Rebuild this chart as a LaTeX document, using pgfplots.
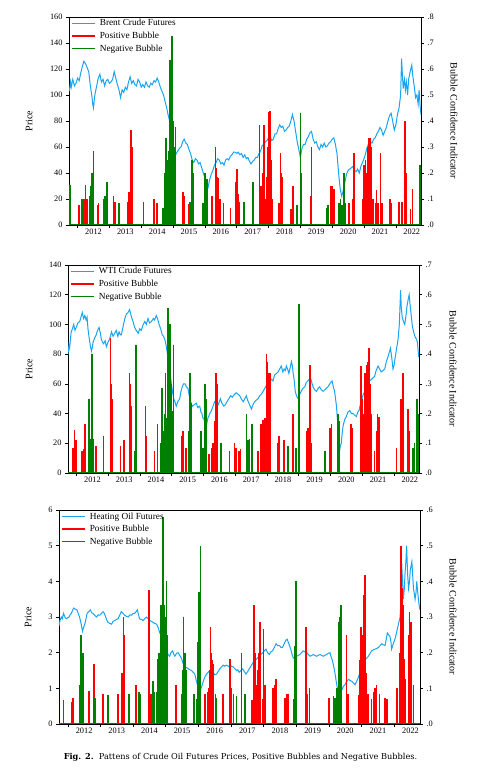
\documentclass[border=0pt]{standalone}
\usepackage{fontspec}
\setmainfont{Liberation Serif}
\newfontfamily\capfont{DejaVu Serif}
\usepackage{pgfplots}
\pgfplotsset{compat=1.18}
\definecolor{pblue}{RGB}{25,165,240}
\definecolor{pred}{RGB}{255,0,0}
\definecolor{pgreen}{RGB}{0,128,0}
\pgfplotsset{
  base/.style={
    scale only axis, anchor=south west,
    xmin=2011.73, xmax=2022.79,
    enlargelimits=false,
    axis line style={line width=0.7pt},
    tick align=outside,
    major tick length=3pt,
    tick style={line width=0.6pt, black},
    tick label style={font=\fontsize{8.3}{9}\selectfont},
    label style={font=\fontsize{9.6}{11}\selectfont},
    /pgf/number format/assume math mode=true,
  },
  leftax/.style={base,
    xtick={2012,2013,2014,2015,2016,2017,2018,2019,2020,2021,2022}, xticklabels={},
    extra x ticks={2012.5,2013.5,2014.5,2015.5,2016.5,2017.5,2018.5,2019.5,2020.5,2021.5,2022.5},
    extra x tick labels={2012,2013,2014,2015,2016,2017,2018,2019,2020,2021,2022},
    extra x tick style={major tick length=0pt},
    xtick pos=left, ytick pos=left,
    ylabel={Price},
  },
  rightax/.style={base,
    axis x line=none, axis y line*=right,
    ylabel={Bubble Confidence Indicator},
    legend style={at={(axis description cs:0,1)}, anchor=north west, xshift=1.9pt,
      draw=none, fill=none, inner sep=0pt, column sep=2.4pt,
      font=\fontsize{9.3}{11}\selectfont,
      nodes={inner sep=1.8pt, text height=7pt, text depth=2pt}},
    legend image code/.code={\draw[#1] (0pt,0pt) -- (23pt,0pt);},
    legend cell align=left,
  },
  bar/.style={ycomb, line width=1.6pt, mark=none, forget plot},
  price/.style={pblue, line width=1pt, mark=none},
  leg/.style={line width=1.5pt},
}
\begin{document}
\begin{tikzpicture}
\path[use as bounding box] (0pt,0pt) rectangle (483pt,775pt);

% ---------------- Panel 1: Brent ----------------
\begin{axis}[leftax, at={(69pt,550pt)}, width=352pt, height=208pt,
  ymin=0, ymax=160, ytick={0,20,40,60,80,100,120,140,160},
  every axis y label/.style={at={(axis description cs:0,0.5)}, xshift=-40pt, rotate=90, anchor=center}]
\addplot[price] coordinates {
(2011.74,103)(2011.78,110)(2011.80,106)(2011.85,112)(2011.90,107)(2011.95,109)(2012.00,113)(2012.05,111)
(2012.10,117)(2012.15,122)(2012.20,126)(2012.25,124)(2012.30,121)(2012.35,118)(2012.40,107)(2012.45,99)
(2012.48,92)(2012.50,90)(2012.53,98)(2012.55,101)(2012.60,107)(2012.65,113)(2012.70,116)(2012.75,110)
(2012.80,112)(2012.85,107)(2012.90,111)(2012.95,112)(2013.00,109)(2013.05,110)(2013.10,112)(2013.15,118)
(2013.20,113)(2013.25,108)(2013.30,104)(2013.35,98)(2013.40,104)(2013.45,102)(2013.50,106)(2013.55,104)
(2013.60,110)(2013.65,114)(2013.70,109)(2013.75,111)(2013.80,108)(2013.85,107)(2013.90,112)(2013.95,110)
(2014.00,106)(2014.05,108)(2014.10,106)(2014.15,110)(2014.20,107)(2014.25,106)(2014.30,109)(2014.35,108)
(2014.40,111)(2014.45,110)(2014.50,113)(2014.55,110)(2014.60,106)(2014.65,103)(2014.70,100)(2014.75,95)
(2014.80,90)(2014.85,84)(2014.90,79)(2014.95,72)(2015.00,60)(2015.05,52)(2015.10,55)(2015.15,57)
(2015.20,59)(2015.25,60)(2015.30,64)(2015.35,66)(2015.40,63)(2015.45,62)(2015.50,58)(2015.55,55)
(2015.60,50)(2015.65,48)(2015.70,51)(2015.75,50)(2015.80,47)(2015.85,48)(2015.90,44)(2015.95,40)
(2016.00,36)(2016.05,32)(2016.10,29)(2016.15,35)(2016.20,39)(2016.25,42)(2016.30,46)(2016.35,48)
(2016.40,51)(2016.45,50)(2016.50,47)(2016.55,48)(2016.60,46)(2016.65,50)(2016.70,51)(2016.75,50)
(2016.80,53)(2016.85,54)(2016.90,56)(2016.95,56)(2017.00,55)(2017.05,56)(2017.10,54)(2017.15,55)
(2017.20,52)(2017.25,54)(2017.30,51)(2017.35,52)(2017.40,49)(2017.45,47)(2017.50,49)(2017.55,50)
(2017.60,52)(2017.65,52)(2017.70,55)(2017.75,57)(2017.80,61)(2017.85,62)(2017.90,64)(2017.95,65)
(2018.00,67)(2018.05,68)(2018.10,65)(2018.15,66)(2018.20,70)(2018.25,70)(2018.30,74)(2018.35,77)
(2018.40,75)(2018.45,76)(2018.50,72)(2018.55,73)(2018.60,75)(2018.65,76)(2018.70,80)(2018.75,85)
(2018.80,80)(2018.85,72)(2018.90,64)(2018.95,58)(2019.00,52)(2019.05,59)(2019.10,62)(2019.15,62)
(2019.20,66)(2019.25,68)(2019.30,71)(2019.35,72)(2019.40,66)(2019.45,63)(2019.50,64)(2019.55,60)
(2019.60,58)(2019.65,62)(2019.70,60)(2019.75,63)(2019.80,60)(2019.85,61)(2019.90,63)(2019.95,64)
(2020.00,66)(2020.05,67)(2020.10,62)(2020.15,55)(2020.20,40)(2020.25,28)(2020.30,22)(2020.35,27)
(2020.40,33)(2020.45,39)(2020.50,42)(2020.55,43)(2020.60,44)(2020.65,45)(2020.70,42)(2020.75,41)
(2020.80,43)(2020.85,40)(2020.90,45)(2020.95,48)(2021.00,51)(2021.05,55)(2021.10,60)(2021.15,63)
(2021.20,64)(2021.25,63)(2021.30,66)(2021.35,67)(2021.40,70)(2021.45,72)(2021.50,75)(2021.55,73)
(2021.60,69)(2021.65,72)(2021.70,75)(2021.75,80)(2021.80,84)(2021.85,86)(2021.90,80)(2021.95,73)
(2022.00,77)(2022.05,85)(2022.10,90)(2022.15,100)(2022.18,128)(2022.20,118)(2022.23,105)(2022.27,112)
(2022.30,104)(2022.33,110)(2022.37,100)(2022.40,112)(2022.45,118)(2022.50,123)(2022.53,115)(2022.57,108)
(2022.62,98)(2022.66,100)(2022.70,93)(2022.73,104)(2022.76,92)(2022.79,85)
};
\end{axis}
\begin{axis}[rightax, at={(69pt,550pt)}, width=352pt, height=208pt,
  ymin=0, ymax=0.8, ytick={0,0.1,0.2,0.3,0.4,0.5,0.6,0.7,0.8},
  yticklabels={.0,.1,.2,.3,.4,.5,.6,.7,.8},
  every axis y label/.style={at={(axis description cs:1,0.5)}, xshift=33pt, rotate=-90, anchor=center}]
\addlegendimage{pblue, leg}
\addlegendimage{pred, leg}
\addlegendimage{pgreen, leg}
\addplot[pred, bar] coordinates {
(2012.04,0.075)(2012.16,0.075)(2012.18,0.08)(2012.20,0.10)(2012.25,0.155)(2012.28,0.10)(2012.31,0.10)
(2012.62,0.075)(2012.66,0.085)(2012.81,0.10)(2013.13,0.11)(2013.18,0.09)(2013.57,0.09)(2013.62,0.125)
(2013.67,0.365)(2013.69,0.36)(2013.71,0.30)(2014.41,0.10)(2014.49,0.085)(2015.31,0.125)(2015.35,0.11)
(2015.49,0.08)(2016.22,0.11)(2016.33,0.30)(2016.36,0.22)(2016.38,0.185)(2016.43,0.18)(2016.48,0.10)
(2016.80,0.065)(2016.98,0.165)(2017.01,0.215)(2017.04,0.12)(2017.06,0.11)(2017.09,0.09)(2017.72,0.385)
(2017.74,0.15)(2017.76,0.15)(2017.79,0.10)(2017.82,0.2)(2017.85,0.385)(2017.87,0.25)(2017.90,0.10)
(2017.93,0.15)(2017.95,0.185)(2017.98,0.3)(2018.00,0.435)(2018.04,0.44)(2018.06,0.3)(2018.08,0.25)
(2018.11,0.10)(2018.32,0.085)(2018.37,0.275)(2018.40,0.2)(2018.42,0.185)(2018.69,0.06)(2018.72,0.06)
(2018.77,0.15)(2018.79,0.085)(2019.32,0.11)(2019.35,0.30)(2019.95,0.15)(2019.98,0.15)(2020.00,0.15)
(2020.05,0.14)(2020.52,0.085)(2020.66,0.10)(2020.68,0.275)(2020.97,0.1)(2021.00,0.23)(2021.03,0.15)
(2021.05,0.25)(2021.08,0.2)(2021.10,0.165)(2021.13,0.3)(2021.15,0.335)(2021.18,0.25)(2021.20,0.335)
(2021.24,0.30)(2021.29,0.10)(2021.36,0.085)(2021.39,0.135)(2021.43,0.085)(2021.52,0.275)(2021.57,0.085)
(2021.81,0.10)(2021.86,0.085)(2022.10,0.09)(2022.20,0.09)(2022.28,0.40)(2022.31,0.20)(2022.46,0.06)
(2022.52,0.14)
};
\addplot[pgreen, bar] coordinates {
(2011.76,0.155)(2012.13,0.10)(2012.18,0.09)(2012.37,0.11)(2012.41,0.10)(2012.43,0.15)(2012.45,0.20)
(2012.50,0.285)(2012.86,0.11)(2012.92,0.165)(2013.30,0.085)(2014.07,0.09)(2014.68,0.065)(2014.75,0.20)
(2014.78,0.335)(2014.82,0.25)(2014.86,0.285)(2014.89,0.3)(2014.91,0.635)(2014.94,0.45)(2014.96,0.725)
(2014.99,0.40)(2015.01,0.2)(2015.03,0.30)(2015.07,0.375)(2015.54,0.09)(2015.59,0.25)(2015.62,0.20)
(2015.94,0.085)(2016.01,0.20)(2016.06,0.175)(2016.59,0.085)(2017.22,0.09)(2017.51,0.165)(2018.90,0.075)
(2019.00,0.43)(2019.03,0.20)(2019.84,0.065)(2019.86,0.075)(2020.21,0.085)(2020.26,0.10)(2020.31,0.075)
(2020.37,0.20)(2020.42,0.085)(2022.76,0.23)(2022.785,0.225)
};
\addplot[pgreen, line width=1pt, forget plot] coordinates {(2011.73,0)(2022.79,0)};
\legend{Brent Crude Futures, Positive Bubble, Negative Bubble}
\end{axis}

% ---------------- Panel 2: WTI ----------------
\begin{axis}[leftax, at={(68pt,302pt)}, width=351pt, height=208pt,
  ymin=0, ymax=140, ytick={0,20,40,60,80,100,120,140},
  every axis y label/.style={at={(axis description cs:0,0.5)}, xshift=-39pt, rotate=90, anchor=center}]
\addplot[price] coordinates {
(2011.73,80)(2011.76,86)(2011.78,84)(2011.83,95)(2011.87,97)(2011.91,100)(2011.95,96)(2011.99,98)
(2012.04,101)(2012.10,102)(2012.14,105)(2012.18,108)(2012.22,104)(2012.26,106)(2012.30,103)(2012.33,105)
(2012.36,97)(2012.39,92)(2012.43,86)(2012.47,82)(2012.50,85)(2012.52,88)(2012.57,91)(2012.62,93)
(2012.66,96)(2012.71,98)(2012.75,94)(2012.78,90)(2012.82,88)(2012.85,87)(2012.90,89)(2012.94,85)
(2012.99,88)(2013.04,90)(2013.10,95)(2013.15,92)(2013.20,94)(2013.25,96)(2013.30,92)(2013.34,95)
(2013.38,93)(2013.41,93)(2013.46,98)(2013.52,104)(2013.57,107)(2013.62,108)(2013.67,110)(2013.73,105)
(2013.78,102)(2013.83,98)(2013.88,96)(2013.94,94)(2013.99,97)(2014.04,96)(2014.10,100)(2014.15,102)
(2014.20,100)(2014.25,104)(2014.30,101)(2014.36,102)(2014.42,104)(2014.46,103)(2014.51,106)(2014.55,104)
(2014.60,100)(2014.65,97)(2014.70,93)(2014.74,92)(2014.78,90)(2014.82,86)(2014.85,82)(2014.88,78)
(2014.91,75)(2014.95,67)(2014.99,60)(2015.02,55)(2015.06,50)(2015.10,48)(2015.14,45)(2015.19,48)
(2015.25,50)(2015.29,55)(2015.33,58)(2015.37,60)(2015.42,60)(2015.46,58)(2015.51,57)(2015.55,52)
(2015.58,50)(2015.62,46)(2015.65,45)(2015.71,46)(2015.77,47)(2015.82,44)(2015.88,45)(2015.92,41)
(2015.95,40)(2015.98,37)(2016.01,37)(2016.04,33)(2016.07,30)(2016.10,33)(2016.14,37)(2016.20,40)
(2016.25,42)(2016.30,45)(2016.35,48)(2016.40,49)(2016.46,46)(2016.50,48)(2016.53,50)(2016.58,47)
(2016.64,45)(2016.69,46)(2016.74,48)(2016.80,50)(2016.85,52)(2016.91,51)(2016.98,53)(2017.03,54)
(2017.09,53)(2017.14,52)(2017.19,50)(2017.25,48)(2017.30,50)(2017.35,52)(2017.39,49)(2017.43,47)
(2017.47,45)(2017.51,43)(2017.56,46)(2017.61,48)(2017.66,49)(2017.72,50)(2017.77,52)(2017.82,53)
(2017.88,55)(2017.93,57)(2017.98,59)(2018.03,60)(2018.08,62)(2018.14,63)(2018.19,62)(2018.24,66)
(2018.30,67)(2018.35,68)(2018.40,70)(2018.45,72)(2018.50,68)(2018.54,70)(2018.58,69)(2018.61,72)
(2018.65,70)(2018.69,67)(2018.73,71)(2018.77,75)(2018.80,72)(2018.82,68)(2018.86,62)(2018.89,55)
(2018.93,52)(2018.98,50)(2019.03,53)(2019.08,55)(2019.13,57)(2019.19,58)(2019.24,61)(2019.29,62)
(2019.33,63)(2019.37,64)(2019.41,61)(2019.45,58)(2019.50,56)(2019.56,55)(2019.61,57)(2019.66,58)
(2019.71,56)(2019.77,55)(2019.82,56)(2019.87,57)(2019.92,58)(2019.98,60)(2020.01,61)(2020.05,62)
(2020.09,58)(2020.13,55)(2020.16,50)(2020.19,45)(2020.22,36)(2020.24,30)(2020.27,22)(2020.29,15)
(2020.31,18)(2020.34,20)(2020.37,27)(2020.40,32)(2020.45,36)(2020.50,38)(2020.55,41)(2020.61,42)
(2020.66,40)(2020.71,40)(2020.76,39)(2020.82,38)(2020.86,41)(2020.90,42)(2020.93,45)(2020.97,48)
(2021.02,52)(2021.08,55)(2021.13,58)(2021.18,60)(2021.23,62)(2021.29,63)(2021.34,64)(2021.39,65)
(2021.44,69)(2021.50,72)(2021.55,70)(2021.60,68)(2021.66,69)(2021.71,70)(2021.76,75)(2021.81,78)
(2021.85,81)(2021.89,84)(2021.93,78)(2021.97,70)(2022.00,72)(2022.02,75)(2022.07,82)(2022.13,90)
(2022.17,100)(2022.21,123)(2022.23,112)(2022.26,105)(2022.30,102)(2022.34,100)(2022.38,106)(2022.41,112)
(2022.45,117)(2022.48,120)(2022.51,113)(2022.55,105)(2022.58,99)(2022.62,95)(2022.66,92)(2022.71,90)
(2022.74,88)(2022.78,78)
};
\end{axis}
\begin{axis}[rightax, at={(68pt,302pt)}, width=351pt, height=208pt,
  ymin=0, ymax=0.7, ytick={0,0.1,0.2,0.3,0.4,0.5,0.6,0.7},
  yticklabels={.0,.1,.2,.3,.4,.5,.6,.7},
  every axis y label/.style={at={(axis description cs:1,0.5)}, xshift=34pt, rotate=-90, anchor=center}]
\addlegendimage{pblue, leg}
\addlegendimage{pred, leg}
\addlegendimage{pgreen, leg}
\addplot[pred, bar] coordinates {
(2011.89,0.085)(2011.94,0.145)(2011.99,0.11)(2012.18,0.075)(2012.22,0.08)(2012.27,0.165)(2012.62,0.09)
(2013.07,0.455)(2013.09,0.3)(2013.12,0.25)(2013.38,0.09)(2013.49,0.11)(2013.67,0.335)(2013.70,0.30)
(2013.73,0.225)(2014.17,0.225)(2014.20,0.125)(2014.46,0.075)(2014.55,0.165)(2015.30,0.125)(2015.35,0.14)
(2015.44,0.085)(2015.46,0.075)(2016.17,0.065)(2016.25,0.085)(2016.30,0.10)(2016.35,0.175)(2016.40,0.335)
(2016.44,0.30)(2016.82,0.075)(2016.98,0.10)(2017.03,0.085)(2017.12,0.075)(2017.16,0.08)(2017.72,0.075)
(2017.82,0.165)(2017.88,0.18)(2017.93,0.185)(2017.98,0.40)(2018.01,0.375)(2018.05,0.335)(2018.07,0.3)
(2018.09,0.335)(2018.35,0.10)(2018.38,0.125)(2018.53,0.11)(2018.82,0.20)(2019.24,0.14)(2019.29,0.15)
(2019.35,0.365)(2019.40,0.10)(2019.98,0.15)(2020.03,0.165)(2020.64,0.165)(2020.69,0.15)(2020.97,0.36)
(2021.00,0.25)(2021.03,0.20)(2021.08,0.335)(2021.10,0.3)(2021.13,0.365)(2021.15,0.3)(2021.18,0.375)
(2021.21,0.42)(2021.24,0.3)(2021.27,0.20)(2021.39,0.075)(2021.45,0.14)(2021.48,0.20)(2021.52,0.19)
(2022.08,0.085)(2022.23,0.25)(2022.29,0.335)(2022.44,0.215)(2022.48,0.14)
};
\addplot[pgreen, bar] coordinates {
(2012.39,0.25)(2012.43,0.115)(2012.49,0.40)(2012.52,0.115)(2012.85,0.125)(2013.83,0.075)(2013.86,0.365)
(2013.88,0.43)(2014.64,0.1)(2014.67,0.18)(2014.70,0.285)(2014.74,0.14)(2014.77,0.2)(2014.80,0.335)
(2014.83,0.185)(2014.86,0.3)(2014.88,0.555)(2014.91,0.50)(2014.93,0.4)(2014.95,0.50)(2014.97,0.3)
(2014.99,0.26)(2015.02,0.21)(2015.06,0.43)(2015.54,0.14)(2015.56,0.2)(2015.58,0.335)(2015.62,0.235)
(2015.93,0.14)(2015.98,0.085)(2016.04,0.30)(2016.09,0.25)(2016.56,0.10)(2017.35,0.20)(2017.40,0.11)
(2017.45,0.115)(2017.53,0.165)(2018.66,0.09)(2018.92,0.085)(2019.01,0.57)(2019.03,0.335)(2019.82,0.075)
(2020.24,0.20)(2020.27,0.12)(2020.29,0.175)(2022.60,0.085)(2022.65,0.10)(2022.73,0.25)(2022.76,0.20)
};
\addplot[pgreen, line width=1pt, forget plot] coordinates {(2011.73,0)(2022.79,0)};
\legend{WTI Crude Futures, Positive Bubble, Negative Bubble}
\end{axis}

% ---------------- Panel 3: Heating oil ----------------
\begin{axis}[leftax, at={(59pt,51pt)}, width=361pt, height=214pt,
  ymin=0, ymax=6, ytick={0,1,2,3,4,5,6},
  every axis y label/.style={at={(axis description cs:0,0.5)}, xshift=-31pt, rotate=90, anchor=center}]
\addplot[price] coordinates {
(2011.73,2.75)(2011.76,2.9)(2011.80,3.0)(2011.83,2.95)(2011.87,3.1)(2011.91,3.0)(2011.95,2.95)(2012.00,2.98)
(2012.04,3.0)(2012.08,3.08)(2012.11,3.1)(2012.15,3.2)(2012.18,3.25)(2012.23,3.22)(2012.28,3.2)(2012.32,3.1)
(2012.36,3.0)(2012.41,2.8)(2012.45,2.6)(2012.48,2.7)(2012.52,2.8)(2012.56,2.95)(2012.59,3.1)(2012.64,3.15)
(2012.69,3.2)(2012.73,3.12)(2012.77,3.1)(2012.82,3.05)(2012.88,3.0)(2012.93,3.06)(2012.98,3.05)(2013.03,3.1)
(2013.08,3.15)(2013.12,3.1)(2013.16,3.0)(2013.20,2.9)(2013.23,2.85)(2013.29,2.82)(2013.34,2.8)(2013.39,2.88)
(2013.44,2.9)(2013.49,2.93)(2013.54,2.95)(2013.59,3.05)(2013.64,3.15)(2013.69,3.1)(2013.74,3.05)(2013.79,3.02)
(2013.85,3.0)(2013.90,3.06)(2013.95,3.05)(2014.00,3.1)(2014.05,3.1)(2014.09,3.15)(2014.13,3.2)(2014.17,3.05)
(2014.20,2.95)(2014.26,2.93)(2014.31,2.9)(2014.36,2.96)(2014.41,3.0)(2014.46,2.95)(2014.51,2.9)(2014.56,2.88)
(2014.61,2.85)(2014.66,2.82)(2014.72,2.8)(2014.77,2.7)(2014.82,2.55)(2014.87,2.45)(2014.92,2.4)(2014.97,2.25)
(2015.02,2.1)(2015.07,1.95)(2015.12,1.9)(2015.16,2.0)(2015.21,2.05)(2015.25,1.95)(2015.28,1.9)(2015.33,1.98)
(2015.38,2.0)(2015.43,1.92)(2015.48,1.85)(2015.53,1.7)(2015.59,1.6)(2015.64,1.58)(2015.69,1.55)(2015.74,1.52)
(2015.79,1.5)(2015.84,1.45)(2015.89,1.4)(2015.94,1.2)(2015.99,1.05)(2016.04,1.05)(2016.08,1.0)(2016.12,1.1)
(2016.15,1.2)(2016.20,1.32)(2016.25,1.4)(2016.30,1.45)(2016.35,1.5)(2016.40,1.42)(2016.45,1.45)(2016.50,1.38)
(2016.56,1.4)(2016.61,1.48)(2016.66,1.55)(2016.71,1.6)(2016.76,1.65)(2016.81,1.62)(2016.86,1.65)(2016.92,1.62)
(2016.97,1.6)(2017.02,1.62)(2017.07,1.6)(2017.12,1.55)(2017.17,1.5)(2017.21,1.52)(2017.25,1.45)(2017.30,1.5)
(2017.35,1.55)(2017.40,1.48)(2017.46,1.4)(2017.51,1.47)(2017.56,1.55)(2017.61,1.62)(2017.66,1.7)(2017.71,1.75)
(2017.76,1.8)(2017.81,1.85)(2017.86,1.9)(2017.92,1.95)(2017.97,2.0)(2018.02,2.05)(2018.07,2.1)(2018.12,2.0)
(2018.17,1.95)(2018.22,2.02)(2018.27,2.05)(2018.33,2.15)(2018.38,2.25)(2018.43,2.2)(2018.48,2.2)(2018.53,2.15)
(2018.58,2.15)(2018.63,2.25)(2018.68,2.35)(2018.72,2.38)(2018.75,2.3)(2018.79,2.2)(2018.83,2.1)(2018.87,1.95)
(2018.91,1.85)(2018.96,1.88)(2019.01,1.9)(2019.06,1.92)(2019.11,1.95)(2019.16,2.0)(2019.21,2.05)(2019.27,2.02)
(2019.32,2.0)(2019.37,1.95)(2019.42,1.9)(2019.47,1.92)(2019.52,1.95)(2019.57,1.92)(2019.62,1.9)(2019.68,1.93)
(2019.73,1.95)(2019.78,1.92)(2019.83,1.9)(2019.88,1.93)(2019.93,1.95)(2019.98,1.98)(2020.03,2.0)(2020.06,1.9)
(2020.10,1.8)(2020.15,1.6)(2020.19,1.4)(2020.23,1.15)(2020.26,1.0)(2020.29,0.9)(2020.32,0.85)(2020.35,0.9)
(2020.39,0.95)(2020.44,1.05)(2020.49,1.1)(2020.55,1.2)(2020.60,1.25)(2020.65,1.22)(2020.70,1.2)(2020.75,1.15)
(2020.80,1.1)(2020.85,1.2)(2020.90,1.3)(2020.95,1.45)(2021.00,1.6)(2021.05,1.7)(2021.11,1.8)(2021.16,1.85)
(2021.21,1.9)(2021.26,1.98)(2021.31,2.05)(2021.36,2.08)(2021.41,2.1)(2021.47,2.12)(2021.52,2.15)(2021.57,2.2)
(2021.62,2.25)(2021.67,2.22)(2021.72,2.2)(2021.76,2.4)(2021.79,2.55)(2021.83,2.5)(2021.87,2.45)(2021.90,2.3)
(2021.92,2.1)(2021.97,2.25)(2022.03,2.4)(2022.08,2.6)(2022.13,2.8)(2022.18,3.0)(2022.21,3.5)(2022.23,4.5)
(2022.26,3.9)(2022.28,3.5)(2022.31,3.8)(2022.33,4.2)(2022.36,4.6)(2022.38,5.0)(2022.41,4.2)(2022.44,3.8)
(2022.47,4.0)(2022.49,4.3)(2022.54,4.55)(2022.57,4.1)(2022.59,3.8)(2022.64,3.5)(2022.67,3.7)(2022.69,4.0)
(2022.72,3.7)(2022.74,3.5)(2022.77,3.3)(2022.79,3.2)
};
\end{axis}
\begin{axis}[rightax, at={(59pt,51pt)}, width=361pt, height=214pt,
  ymin=0, ymax=0.6, ytick={0,0.1,0.2,0.3,0.4,0.5,0.6},
  yticklabels={.0,.1,.2,.3,.4,.5,.6},
  every axis y label/.style={at={(axis description cs:1,0.5)}, xshift=33pt, rotate=-90, anchor=center}]
\addlegendimage{pblue, leg}
\addlegendimage{pred, leg}
\addlegendimage{pgreen, leg}
\addplot[pred, bar] coordinates {
(2011.87,0.068)(2012.11,0.063)(2012.16,0.073)(2012.64,0.093)(2012.80,0.167)(2013.08,0.085)(2013.54,0.085)
(2013.66,0.143)(2013.71,0.30)(2013.74,0.25)(2014.08,0.11)(2014.49,0.375)(2014.54,0.083)(2015.31,0.11)
(2016.20,0.083)(2016.30,0.09)(2016.33,0.10)(2016.35,0.15)(2016.37,0.273)(2016.39,0.2)(2016.41,0.18)
(2016.43,0.12)(2016.45,0.167)(2016.76,0.083)(2016.97,0.182)(2017.00,0.10)(2017.07,0.083)(2017.65,0.067)
(2017.70,0.333)(2017.72,0.25)(2017.73,0.20)(2017.76,0.11)(2017.80,0.085)(2017.83,0.15)(2017.85,0.20)
(2017.87,0.2)(2017.89,0.285)(2017.96,0.07)(2017.99,0.267)(2018.04,0.11)(2018.29,0.10)(2018.33,0.11)
(2018.37,0.125)(2018.65,0.073)(2018.72,0.083)(2018.75,0.083)(2019.29,0.273)(2019.32,0.083)(2020.01,0.073)
(2020.54,0.25)(2020.59,0.083)(2020.90,0.08)(2020.95,0.18)(2020.98,0.273)(2021.00,0.2)(2021.02,0.25)
(2021.05,0.15)(2021.08,0.363)(2021.11,0.417)(2021.14,0.143)(2021.19,0.083)(2021.31,0.07)(2021.36,0.09)
(2021.41,0.10)(2021.46,0.11)(2021.55,0.083)(2021.72,0.073)(2021.77,0.07)(2022.08,0.10)(2022.16,0.14)
(2022.18,0.2)(2022.20,0.50)(2022.23,0.38)(2022.26,0.333)(2022.28,0.25)(2022.30,0.182)(2022.33,0.125)
(2022.44,0.25)(2022.47,0.313)(2022.51,0.285)
};
\addplot[pgreen, bar] coordinates {
(2012.38,0.11)(2012.41,0.25)(2012.45,0.167)(2012.47,0.20)(2012.84,0.073)(2013.23,0.08)(2013.87,0.083)
(2014.18,0.09)(2014.23,0.083)(2014.56,0.073)(2014.61,0.12)(2014.66,0.09)(2014.72,0.09)(2014.77,0.182)
(2014.80,0.2)(2014.82,0.143)(2014.85,0.333)(2014.87,0.25)(2014.89,0.333)(2014.92,0.58)(2014.95,0.333)
(2014.97,0.3)(2014.99,0.285)(2015.02,0.40)(2015.05,0.25)(2015.48,0.083)(2015.53,0.15)(2015.55,0.30)
(2015.58,0.2)(2015.61,0.20)(2015.64,0.15)(2015.87,0.083)(2015.94,0.07)(2015.99,0.23)(2016.02,0.37)
(2016.06,0.50)(2016.52,0.083)(2016.56,0.073)(2017.17,0.078)(2017.32,0.20)(2017.43,0.083)(2018.93,0.07)
(2018.96,0.22)(2018.99,0.40)(2019.40,0.10)(2020.14,0.078)(2020.19,0.073)(2020.24,0.1)(2020.29,0.285)
(2020.31,0.2)(2020.34,0.30)(2020.37,0.333)(2022.59,0.11)
};
\addplot[pgreen, line width=1pt, forget plot] coordinates {(2011.73,0)(2022.79,0)};
\legend{Heating Oil Futures, Positive Bubble, Negative Bubble}
\end{axis}

\node[font=\capfont\fontsize{8.2}{10}\selectfont] at (240.5pt,18pt)
  {\textbf{Fig. 2.}\ \ Pattens of Crude Oil Futures Prices, Positive Bubbles and Negative Bubbles.};
\end{tikzpicture}
\end{document}
